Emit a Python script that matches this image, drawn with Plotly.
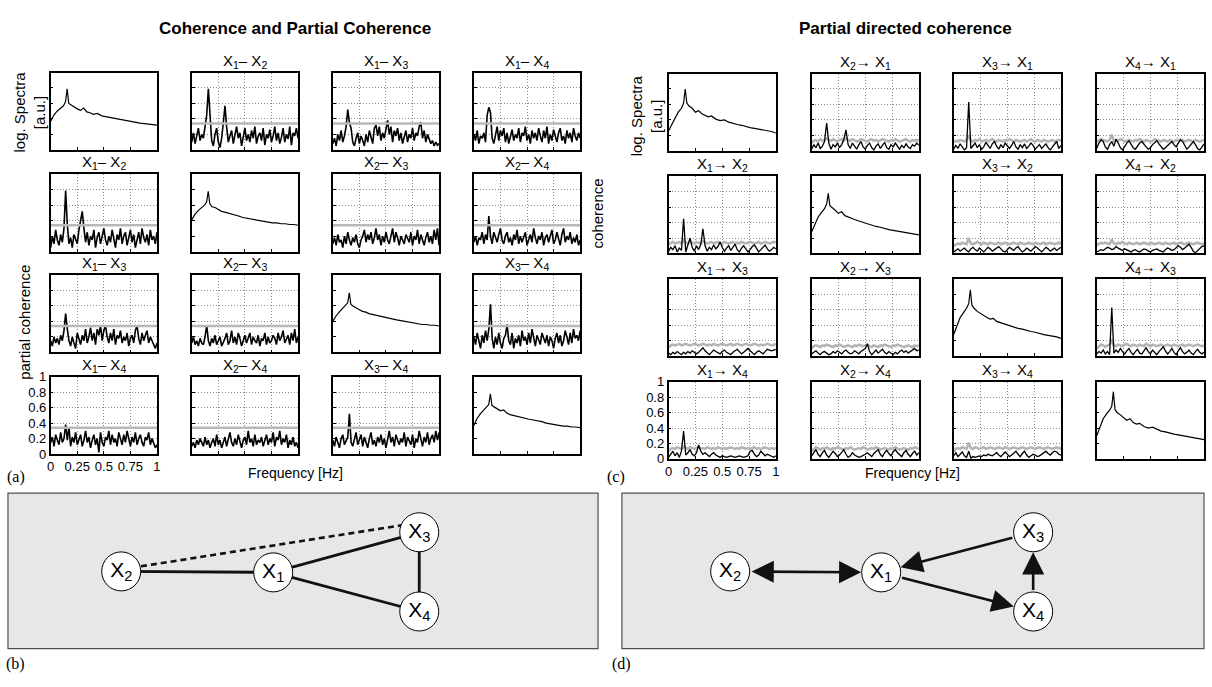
import numpy as np
import plotly.graph_objects as go

W, H = 1212, 687
FONT = "Arial, Liberation Sans, sans-serif"
SERIF = "Times New Roman, Liberation Serif, serif"

# ---------------- data ----------------
# log spectra (diagonal panels), arbitrary units, sampled at f_spec
f_spec = [0, 0.03, 0.06, 0.09, 0.12, 0.14, 0.155, 0.17, 0.19, 0.22, 0.25, 0.28, 0.31, 0.34, 0.37,
          0.40, 0.44, 0.48, 0.52, 0.56, 0.60, 0.64, 0.68, 0.72, 0.76, 0.80, 0.84, 0.88, 0.92, 0.96, 1.0]
spec_L1 = [0.37,0.45,0.50,0.53,0.57,0.62,0.79,0.60,0.58,0.55,0.53,0.51,0.54,0.49,0.48,0.46,0.47,0.44,0.43,0.41,0.40,0.39,0.38,0.37,0.36,0.35,0.345,0.34,0.33,0.325,0.32]
spec_L2 = [0.41,0.48,0.53,0.56,0.60,0.64,0.78,0.62,0.58,0.57,0.54,0.52,0.51,0.50,0.48,0.47,0.46,0.44,0.43,0.42,0.41,0.40,0.39,0.38,0.37,0.37,0.36,0.36,0.35,0.35,0.34]
spec_L3 = [0.40,0.47,0.52,0.56,0.60,0.64,0.77,0.62,0.60,0.57,0.55,0.53,0.52,0.50,0.49,0.48,0.47,0.45,0.44,0.43,0.42,0.41,0.40,0.39,0.38,0.37,0.36,0.36,0.35,0.35,0.34]
spec_L4 = [0.37,0.46,0.52,0.56,0.60,0.64,0.78,0.63,0.61,0.58,0.56,0.57,0.53,0.51,0.50,0.49,0.47,0.46,0.45,0.44,0.43,0.42,0.40,0.39,0.38,0.37,0.36,0.36,0.35,0.35,0.34]
spec_R1 = [0.26,0.34,0.42,0.50,0.55,0.62,0.80,0.62,0.58,0.55,0.50,0.52,0.48,0.46,0.44,0.45,0.41,0.39,0.40,0.37,0.35,0.34,0.33,0.31,0.30,0.29,0.28,0.27,0.26,0.25,0.23]
spec_R2 = [0.28,0.38,0.47,0.53,0.58,0.64,0.78,0.62,0.60,0.56,0.52,0.54,0.49,0.47,0.45,0.44,0.42,0.40,0.38,0.37,0.35,0.34,0.32,0.31,0.30,0.29,0.28,0.27,0.26,0.25,0.24]
spec_R3 = [0.28,0.40,0.50,0.56,0.62,0.68,0.86,0.66,0.62,0.58,0.55,0.52,0.50,0.48,0.49,0.45,0.43,0.41,0.39,0.38,0.36,0.35,0.33,0.32,0.31,0.29,0.28,0.27,0.26,0.25,0.23]
spec_R4 = [0.30,0.42,0.52,0.58,0.63,0.68,0.87,0.64,0.60,0.57,0.54,0.50,0.52,0.47,0.45,0.46,0.42,0.40,0.41,0.38,0.36,0.35,0.33,0.32,0.31,0.30,0.29,0.28,0.27,0.26,0.25]

# coherence (above diagonal) and partial coherence (below), 0..1 Hz
coh_12 = [0.10,0.22,0.08,0.18,0.28,0.12,0.20,0.15,0.30,0.45,0.79,0.40,0.12,0.05,0.20,0.28,0.10,0.03,0.15,0.35,0.57,0.30,0.10,0.18,0.25,0.08,0.20,0.30,0.15,0.22,0.05,0.18,0.28,0.12,0.20,0.10,0.25,0.15,0.30,0.08,0.18,0.22,0.12,0.28,0.06,0.20,0.15,0.26,0.10,0.18,0.30,0.12,0.22,0.08,0.16,0.28,0.10,0.20,0.14,0.30,0.06,0.22,0.18,0.28,0.15]
coh_13 = [0.08,0.15,0.05,0.20,0.12,0.25,0.10,0.18,0.30,0.52,0.35,0.28,0.10,0.05,0.15,0.22,0.08,0.18,0.12,0.05,0.20,0.10,0.25,0.15,0.08,0.28,0.32,0.18,0.30,0.12,0.22,0.15,0.28,0.38,0.20,0.30,0.10,0.25,0.18,0.28,0.12,0.22,0.08,0.18,0.25,0.10,0.20,0.15,0.28,0.12,0.22,0.18,0.30,0.36,0.15,0.25,0.10,0.20,0.15,0.08,0.12,0.05,0.10,0.06,0.08]
coh_14 = [0.20,0.12,0.25,0.08,0.18,0.15,0.22,0.10,0.45,0.55,0.48,0.15,0.08,0.20,0.30,0.12,0.25,0.18,0.28,0.10,0.22,0.08,0.18,0.26,0.12,0.20,0.15,0.28,0.10,0.22,0.18,0.30,0.12,0.20,0.08,0.25,0.15,0.22,0.12,0.28,0.18,0.10,0.25,0.15,0.30,0.08,0.20,0.12,0.26,0.18,0.10,0.22,0.28,0.12,0.18,0.08,0.25,0.15,0.22,0.10,0.28,0.18,0.12,0.22,0.15]
coh_23 = [0.10,0.18,0.08,0.22,0.12,0.15,0.05,0.20,0.10,0.25,0.15,0.08,0.18,0.12,0.22,0.10,0.05,0.15,0.20,0.28,0.12,0.22,0.15,0.25,0.10,0.18,0.30,0.15,0.22,0.08,0.20,0.12,0.25,0.15,0.10,0.22,0.30,0.12,0.25,0.18,0.08,0.20,0.15,0.10,0.22,0.18,0.12,0.25,0.08,0.20,0.15,0.28,0.10,0.22,0.15,0.08,0.18,0.25,0.12,0.20,0.10,0.28,0.15,0.30,0.08]
coh_24 = [0.12,0.20,0.08,0.18,0.15,0.25,0.10,0.22,0.15,0.46,0.20,0.10,0.25,0.18,0.12,0.22,0.30,0.15,0.10,0.20,0.25,0.12,0.18,0.08,0.22,0.15,0.28,0.10,0.20,0.12,0.18,0.25,0.08,0.15,0.22,0.12,0.30,0.18,0.10,0.20,0.15,0.25,0.08,0.18,0.22,0.12,0.20,0.28,0.10,0.15,0.25,0.18,0.08,0.22,0.30,0.12,0.20,0.15,0.25,0.10,0.18,0.12,0.22,0.08,0.15]
coh_34 = [0.20,0.10,0.25,0.15,0.05,0.22,0.12,0.28,0.15,0.30,0.62,0.18,0.05,0.20,0.10,0.25,0.12,0.05,0.18,0.22,0.36,0.15,0.10,0.25,0.05,0.18,0.12,0.22,0.08,0.28,0.15,0.20,0.10,0.25,0.12,0.30,0.18,0.08,0.22,0.15,0.10,0.25,0.18,0.12,0.22,0.08,0.20,0.15,0.05,0.18,0.25,0.12,0.22,0.08,0.15,0.28,0.20,0.10,0.25,0.12,0.30,0.18,0.22,0.15,0.28]
pcoh_12 = [0.05,0.20,0.10,0.28,0.15,0.08,0.22,0.12,0.30,0.79,0.35,0.10,0.18,0.05,0.22,0.15,0.10,0.28,0.40,0.52,0.30,0.12,0.25,0.08,0.20,0.15,0.28,0.05,0.18,0.25,0.10,0.22,0.30,0.15,0.08,0.20,0.12,0.28,0.18,0.05,0.22,0.15,0.30,0.10,0.20,0.25,0.08,0.18,0.28,0.12,0.22,0.05,0.15,0.25,0.10,0.30,0.18,0.12,0.22,0.08,0.28,0.15,0.20,0.10,0.25]
pcoh_13 = [0.15,0.08,0.20,0.12,0.18,0.10,0.22,0.15,0.28,0.50,0.30,0.15,0.08,0.20,0.12,0.05,0.25,0.18,0.10,0.22,0.15,0.30,0.12,0.20,0.32,0.15,0.25,0.10,0.30,0.22,0.35,0.15,0.28,0.35,0.20,0.12,0.25,0.15,0.30,0.10,0.22,0.18,0.28,0.12,0.20,0.15,0.25,0.08,0.18,0.22,0.12,0.28,0.35,0.18,0.10,0.25,0.15,0.22,0.28,0.12,0.20,0.15,0.10,0.05,0.12]
pcoh_23 = [0.12,0.20,0.10,0.15,0.08,0.18,0.12,0.10,0.20,0.35,0.15,0.08,0.18,0.12,0.22,0.10,0.15,0.20,0.08,0.12,0.18,0.25,0.10,0.15,0.28,0.12,0.20,0.10,0.25,0.18,0.08,0.15,0.22,0.12,0.18,0.25,0.10,0.20,0.15,0.12,0.22,0.08,0.18,0.15,0.25,0.10,0.20,0.12,0.15,0.22,0.18,0.10,0.25,0.15,0.20,0.28,0.12,0.18,0.22,0.10,0.25,0.15,0.30,0.12,0.20]
pcoh_14 = [0.15,0.22,0.10,0.25,0.18,0.12,0.28,0.15,0.20,0.38,0.18,0.35,0.10,0.22,0.15,0.28,0.12,0.20,0.25,0.10,0.18,0.30,0.15,0.22,0.08,0.18,0.25,0.12,0.20,0.02,0.28,0.15,0.10,0.22,0.18,0.30,0.12,0.25,0.15,0.20,0.10,0.28,0.18,0.12,0.25,0.15,0.30,0.20,0.10,0.22,0.15,0.28,0.12,0.20,0.25,0.15,0.10,0.22,0.18,0.28,0.12,0.20,0.15,0.08,0.12]
pcoh_24 = [0.10,0.15,0.08,0.18,0.12,0.20,0.15,0.10,0.22,0.12,0.18,0.08,0.15,0.20,0.10,0.25,0.12,0.18,0.08,0.15,0.22,0.10,0.18,0.28,0.15,0.10,0.20,0.12,0.25,0.15,0.08,0.18,0.22,0.12,0.30,0.15,0.20,0.10,0.25,0.12,0.18,0.15,0.22,0.10,0.18,0.25,0.12,0.20,0.15,0.28,0.10,0.22,0.18,0.30,0.12,0.20,0.15,0.25,0.08,0.18,0.12,0.22,0.10,0.15,0.08]
pcoh_34 = [0.18,0.10,0.22,0.15,0.08,0.20,0.25,0.12,0.18,0.22,0.52,0.15,0.10,0.20,0.28,0.12,0.18,0.25,0.10,0.22,0.15,0.08,0.20,0.28,0.12,0.18,0.10,0.22,0.15,0.25,0.12,0.20,0.08,0.18,0.30,0.15,0.22,0.10,0.25,0.18,0.12,0.20,0.15,0.28,0.10,0.22,0.18,0.12,0.25,0.08,0.20,0.15,0.30,0.18,0.10,0.22,0.15,0.28,0.12,0.20,0.25,0.15,0.30,0.18,0.28]
coh_threshold = 0.34

# partial directed coherence: black = PDC, gray = significance level
pdc_2to1 = [0.02,0.08,0.04,0.10,0.03,0.06,0.12,0.36,0.10,0.02,0.08,0.05,0.10,0.04,0.08,0.15,0.27,0.08,0.03,0.10,0.06,0.02,0.08,0.12,0.05,0.02,0.07,0.10,0.04,0.01,0.06,0.09,0.03,0.07,0.11,0.04,0.02,0.08,0.05,0.10,0.06,0.02,0.07,0.04,0.09,0.05,0.03,0.08,0.06,0.10,0.07]
sig_2to1 = [0.10,0.13,0.14,0.12,0.15,0.13,0.14,0.16,0.14,0.13,0.15,0.14,0.12,0.14,0.15,0.13,0.16,0.14,0.13,0.15,0.14,0.12,0.13,0.15,0.14,0.13,0.12,0.14,0.15,0.13,0.14,0.12,0.13,0.15,0.14,0.13,0.12,0.14,0.13,0.15,0.14,0.12,0.13,0.14,0.15,0.13,0.12,0.14,0.13,0.14,0.13]
pdc_3to1 = [0.02,0.07,0.03,0.09,0.05,0.01,0.04,0.63,0.03,0.06,0.10,0.04,0.08,0.02,0.05,0.11,0.07,0.03,0.09,0.12,0.06,0.02,0.08,0.04,0.10,0.06,0.03,0.07,0.12,0.05,0.02,0.08,0.04,0.09,0.03,0.06,0.10,0.07,0.02,0.05,0.08,0.03,0.06,0.09,0.04,0.01,0.05,0.08,0.12,0.03,0.07]
sig_3to1 = [0.11,0.13,0.12,0.14,0.13,0.12,0.14,0.20,0.13,0.12,0.14,0.13,0.15,0.12,0.13,0.14,0.12,0.13,0.15,0.13,0.12,0.14,0.13,0.12,0.14,0.13,0.15,0.13,0.12,0.14,0.13,0.12,0.13,0.14,0.12,0.13,0.15,0.13,0.12,0.14,0.13,0.12,0.14,0.13,0.12,0.13,0.14,0.12,0.13,0.14,0.13]
pdc_4to1 = [0.03,0.10,0.14,0.12,0.05,0.02,0.08,0.12,0.06,0.15,0.10,0.04,0.01,0.06,0.10,0.13,0.08,0.04,0.02,0.06,0.10,0.12,0.08,0.05,0.02,0.04,0.08,0.11,0.13,0.09,0.05,0.02,0.04,0.07,0.10,0.12,0.08,0.05,0.10,0.14,0.12,0.06,0.02,0.05,0.09,0.12,0.08,0.03,0.01,0.05,0.09]
sig_4to1 = [0.12,0.13,0.15,0.14,0.13,0.12,0.14,0.21,0.13,0.14,0.13,0.15,0.14,0.12,0.13,0.14,0.13,0.12,0.14,0.13,0.15,0.13,0.12,0.14,0.13,0.12,0.13,0.15,0.14,0.13,0.12,0.14,0.13,0.12,0.14,0.13,0.12,0.14,0.13,0.15,0.14,0.12,0.13,0.14,0.13,0.12,0.14,0.13,0.12,0.13,0.14]
pdc_1to2 = [0.03,0.08,0.05,0.10,0.02,0.07,0.04,0.45,0.02,0.12,0.20,0.08,0.03,0.10,0.05,0.12,0.32,0.10,0.03,0.08,0.05,0.11,0.06,0.09,0.15,0.08,0.03,0.07,0.10,0.04,0.08,0.12,0.05,0.02,0.07,0.10,0.06,0.02,0.05,0.09,0.11,0.06,0.02,0.05,0.08,0.11,0.06,0.03,0.05,0.08,0.06]
sig_1to2 = [0.12,0.14,0.15,0.13,0.14,0.15,0.13,0.17,0.14,0.13,0.15,0.14,0.13,0.15,0.14,0.13,0.16,0.14,0.13,0.14,0.15,0.13,0.14,0.15,0.14,0.13,0.15,0.14,0.13,0.14,0.15,0.13,0.14,0.13,0.15,0.14,0.13,0.14,0.15,0.14,0.13,0.14,0.15,0.13,0.14,0.15,0.14,0.13,0.14,0.15,0.14]
pdc_3to2 = [0.02,0.04,0.06,0.03,0.05,0.07,0.04,0.02,0.06,0.08,0.05,0.03,0.07,0.04,0.02,0.05,0.08,0.06,0.03,0.05,0.07,0.09,0.06,0.03,0.02,0.05,0.08,0.06,0.04,0.07,0.09,0.05,0.02,0.04,0.07,0.05,0.03,0.06,0.09,0.07,0.04,0.02,0.05,0.08,0.06,0.03,0.05,0.07,0.04,0.06,0.08]
sig_3to2 = [0.10,0.12,0.13,0.12,0.14,0.13,0.12,0.20,0.13,0.12,0.14,0.15,0.13,0.12,0.14,0.13,0.12,0.14,0.13,0.12,0.13,0.14,0.12,0.13,0.14,0.13,0.12,0.13,0.14,0.13,0.12,0.14,0.13,0.12,0.13,0.14,0.13,0.12,0.14,0.13,0.12,0.13,0.14,0.12,0.13,0.14,0.13,0.12,0.13,0.14,0.13]
pdc_4to2 = [0.02,0.03,0.05,0.04,0.06,0.08,0.07,0.05,0.06,0.09,0.07,0.05,0.04,0.06,0.05,0.03,0.02,0.04,0.05,0.03,0.02,0.04,0.06,0.05,0.03,0.02,0.04,0.05,0.06,0.04,0.03,0.02,0.05,0.07,0.06,0.04,0.05,0.08,0.10,0.08,0.05,0.07,0.10,0.12,0.08,0.03,0.01,0.04,0.07,0.09,0.10]
sig_4to2 = [0.11,0.12,0.14,0.13,0.14,0.13,0.12,0.18,0.13,0.12,0.14,0.13,0.15,0.13,0.12,0.14,0.13,0.12,0.13,0.14,0.12,0.13,0.14,0.13,0.12,0.14,0.13,0.12,0.13,0.14,0.13,0.12,0.14,0.13,0.12,0.13,0.14,0.12,0.13,0.14,0.13,0.12,0.13,0.14,0.13,0.12,0.13,0.14,0.13,0.12,0.13]
pdc_1to3 = [0.04,0.02,0.05,0.03,0.06,0.04,0.02,0.05,0.03,0.06,0.04,0.07,0.05,0.03,0.05,0.08,0.11,0.07,0.04,0.02,0.05,0.08,0.06,0.04,0.03,0.06,0.08,0.05,0.03,0.02,0.05,0.07,0.09,0.06,0.03,0.05,0.08,0.10,0.07,0.04,0.02,0.05,0.07,0.05,0.03,0.06,0.09,0.08,0.07,0.08,0.09]
sig_1to3 = [0.11,0.14,0.15,0.14,0.15,0.16,0.14,0.15,0.16,0.15,0.14,0.15,0.16,0.15,0.14,0.15,0.16,0.15,0.14,0.15,0.14,0.16,0.15,0.14,0.15,0.16,0.15,0.14,0.15,0.16,0.14,0.15,0.16,0.15,0.14,0.15,0.16,0.15,0.14,0.15,0.16,0.15,0.14,0.15,0.14,0.15,0.16,0.15,0.14,0.15,0.15]
pdc_2to3 = [0.03,0.05,0.07,0.04,0.02,0.05,0.06,0.04,0.02,0.03,0.06,0.04,0.07,0.05,0.03,0.06,0.08,0.05,0.03,0.04,0.07,0.05,0.03,0.06,0.08,0.10,0.16,0.06,0.02,0.05,0.08,0.04,0.06,0.09,0.05,0.03,0.06,0.04,0.02,0.05,0.03,0.06,0.08,0.05,0.07,0.04,0.06,0.08,0.10,0.07,0.08]
sig_2to3 = [0.10,0.13,0.14,0.13,0.12,0.14,0.13,0.15,0.14,0.13,0.12,0.14,0.13,0.15,0.14,0.12,0.13,0.14,0.13,0.12,0.14,0.13,0.15,0.14,0.13,0.14,0.15,0.13,0.12,0.14,0.13,0.12,0.14,0.13,0.15,0.14,0.13,0.12,0.14,0.13,0.15,0.14,0.13,0.12,0.13,0.14,0.13,0.12,0.14,0.13,0.14]
pdc_4to3 = [0.03,0.06,0.04,0.08,0.03,0.06,0.02,0.63,0.04,0.08,0.05,0.10,0.06,0.03,0.07,0.10,0.05,0.02,0.06,0.09,0.04,0.03,0.07,0.11,0.06,0.03,0.08,0.05,0.02,0.06,0.09,0.12,0.07,0.03,0.06,0.10,0.05,0.02,0.07,0.11,0.06,0.03,0.05,0.08,0.04,0.02,0.06,0.09,0.05,0.03,0.05]
sig_4to3 = [0.10,0.13,0.15,0.14,0.12,0.14,0.15,0.22,0.14,0.13,0.15,0.14,0.13,0.15,0.16,0.14,0.13,0.15,0.14,0.13,0.15,0.14,0.13,0.16,0.14,0.13,0.15,0.14,0.13,0.14,0.15,0.13,0.14,0.15,0.14,0.13,0.15,0.14,0.13,0.14,0.15,0.13,0.14,0.15,0.14,0.13,0.14,0.15,0.14,0.13,0.14]
pdc_1to4 = [0.02,0.06,0.10,0.04,0.08,0.02,0.10,0.36,0.05,0.08,0.12,0.06,0.04,0.08,0.18,0.10,0.06,0.08,0.05,0.03,0.06,0.08,0.05,0.03,0.02,0.04,0.03,0.02,0.03,0.04,0.03,0.02,0.03,0.04,0.03,0.02,0.03,0.04,0.10,0.11,0.06,0.03,0.05,0.10,0.07,0.04,0.06,0.05,0.03,0.02,0.04]
sig_1to4 = [0.10,0.13,0.14,0.13,0.15,0.14,0.13,0.16,0.14,0.13,0.15,0.14,0.13,0.14,0.15,0.13,0.14,0.13,0.15,0.14,0.13,0.14,0.13,0.15,0.14,0.13,0.14,0.13,0.14,0.15,0.14,0.13,0.14,0.13,0.15,0.14,0.13,0.14,0.13,0.14,0.15,0.13,0.14,0.13,0.14,0.15,0.14,0.13,0.14,0.13,0.14]
pdc_2to4 = [0.04,0.08,0.12,0.06,0.03,0.08,0.11,0.05,0.02,0.06,0.10,0.07,0.03,0.05,0.09,0.12,0.06,0.02,0.04,0.08,0.05,0.03,0.02,0.03,0.04,0.06,0.08,0.05,0.03,0.07,0.10,0.12,0.06,0.03,0.08,0.11,0.07,0.04,0.09,0.12,0.08,0.05,0.03,0.08,0.11,0.06,0.03,0.07,0.10,0.05,0.08]
sig_2to4 = [0.10,0.13,0.15,0.14,0.12,0.14,0.13,0.15,0.14,0.12,0.14,0.13,0.15,0.14,0.13,0.12,0.14,0.13,0.15,0.14,0.12,0.13,0.14,0.13,0.15,0.14,0.12,0.13,0.14,0.13,0.15,0.14,0.12,0.13,0.14,0.13,0.12,0.14,0.13,0.15,0.14,0.12,0.13,0.14,0.13,0.12,0.14,0.13,0.15,0.14,0.13]
pdc_3to4 = [0.04,0.08,0.03,0.06,0.09,0.04,0.02,0.10,0.01,0.03,0.02,0.03,0.04,0.03,0.05,0.04,0.06,0.05,0.04,0.06,0.08,0.05,0.03,0.06,0.09,0.06,0.03,0.05,0.08,0.10,0.06,0.03,0.07,0.10,0.05,0.02,0.04,0.06,0.05,0.03,0.04,0.06,0.08,0.10,0.07,0.05,0.08,0.10,0.09,0.06,0.05]
sig_3to4 = [0.10,0.13,0.14,0.13,0.15,0.14,0.13,0.21,0.14,0.13,0.15,0.14,0.13,0.14,0.15,0.13,0.14,0.15,0.14,0.13,0.14,0.15,0.14,0.13,0.15,0.14,0.13,0.14,0.15,0.14,0.13,0.14,0.15,0.14,0.13,0.14,0.15,0.14,0.13,0.14,0.15,0.14,0.13,0.14,0.15,0.14,0.13,0.14,0.15,0.14,0.14]

tick_y_vals = [0, 0.2, 0.4, 0.6, 0.8, 1]
tick_y_text = ["0", "0.2", "0.4", "0.6", "0.8", "1"]
tick_x_vals = [0, 0.25, 0.5, 0.75, 1]
tick_x_text = ["0", "0.25", "0.5", "0.75", "1"]

# network graphs (node positions in panel units)
node_names = ["X1", "X2", "X3", "X4"]
node_b_x = [271, 118, 418, 418]
node_b_y = [578, 577, 537, 618]
edges_b_solid = [("X2", "X1"), ("X1", "X3"), ("X1", "X4"), ("X3", "X4")]
edges_b_dashed = [("X2", "X3")]
node_d_x = [883, 731, 1036, 1036]
node_d_y = [578, 577, 537, 618]
arrows_d = [("X2", "X1", True), ("X3", "X1", False), ("X1", "X4", False), ("X4", "X3", False)]

# ---------------- layout geometry (pixels) ----------------
L_cols, L_rows, L_w, L_h = [47, 189, 331, 473], [67, 171, 274, 378], 107, 79
R_cols, R_rows, R_w, R_h = [669, 813, 956, 1100], [68, 173, 278, 383], 108, 79

def sub(s):
    return "X<sub>%s</sub>" % s[1]

fig = go.Figure()
layout = {}
annotations = []
shapes = []

def xd(p0, p1):
    return [p0 / W, p1 / W]

def yd(p0, p1):
    return [1 - p1 / H, 1 - p0 / H]

def add_axes(n, x0, y0, w, h, grid, labels):
    xname = "xaxis" if n == 1 else "xaxis%d" % n
    yname = "yaxis" if n == 1 else "yaxis%d" % n
    common = dict(showline=True, mirror=True, linecolor="black", linewidth=1.5,
                  ticks="inside", ticklen=3, tickcolor="black", zeroline=False,
                  showgrid=grid, gridcolor="#8c8c8c", griddash="1px,2px", gridwidth=1,
                  tickfont=dict(family=FONT, size=13, color="black"), fixedrange=True)
    layout[xname] = dict(domain=xd(x0, x0 + w), anchor="y%d" % n, range=[0, 1],
                         tickvals=tick_x_vals, ticktext=tick_x_text,
                         showticklabels=labels, **common)
    layout[yname] = dict(domain=yd(y0, y0 + h), anchor="x%d" % n, range=[0, 1],
                         tickvals=tick_y_vals, ticktext=tick_y_text,
                         showticklabels=labels, **common)

def line(n, x, y, color, width):
    fig.add_trace(go.Scatter(x=x, y=y, xaxis="x%d" % n, yaxis="y%d" % n, mode="lines",
                             line=dict(color=color, width=width), showlegend=False,
                             hoverinfo="skip"))

def title(x0, y0, w, text):
    annotations.append(dict(x=(x0 + w / 2) / W, y=1 - y0 / H, xref="paper", yref="paper",
                            text=text, showarrow=False, xanchor="center", yanchor="bottom",
                            yshift=0, font=dict(family=FONT, size=15, color="black")))

spec_L = [spec_L1, spec_L2, spec_L3, spec_L4]
spec_R = [spec_R1, spec_R2, spec_R3, spec_R4]
coh_L = {(0, 1): coh_12, (0, 2): coh_13, (0, 3): coh_14, (1, 2): coh_23, (1, 3): coh_24, (2, 3): coh_34,
         (1, 0): pcoh_12, (2, 0): pcoh_13, (2, 1): pcoh_23, (3, 0): pcoh_14, (3, 1): pcoh_24, (3, 2): pcoh_34}
pdc_R = {(0, 1): (pdc_2to1, sig_2to1), (0, 2): (pdc_3to1, sig_3to1), (0, 3): (pdc_4to1, sig_4to1),
         (1, 0): (pdc_1to2, sig_1to2), (1, 2): (pdc_3to2, sig_3to2), (1, 3): (pdc_4to2, sig_4to2),
         (2, 0): (pdc_1to3, sig_1to3), (2, 1): (pdc_2to3, sig_2to3), (2, 3): (pdc_4to3, sig_4to3),
         (3, 0): (pdc_1to4, sig_1to4), (3, 1): (pdc_2to4, sig_2to4), (3, 2): (pdc_3to4, sig_3to4)}

n = 0
# left block: coherence / partial coherence
for r in range(4):
    for c in range(4):
        n += 1
        x0, y0 = L_cols[c], L_rows[r]
        labels = (r == 3 and c == 0)
        if r == c:
            add_axes(n, x0, y0, L_w, L_h, False, False)
            s = spec_L[r]
            line(n, f_spec[:len(s)], s, "black", 1.2)
        else:
            add_axes(n, x0, y0, L_w, L_h, True, labels)
            v = coh_L[(r, c)]
            line(n, np.linspace(0, 1, len(v)), v, "black", 1.6)
            line(n, [0, 1], [coh_threshold, coh_threshold], "#b8b8b8", 2.4)
            a, b = sorted([r, c])
            title(x0, y0, L_w, "X<sub>%d</sub>– X<sub>%d</sub>" % (a + 1, b + 1))

# right block: PDC
for r in range(4):
    for c in range(4):
        n += 1
        x0, y0 = R_cols[c], R_rows[r]
        labels = (r == 3 and c == 0)
        if r == c:
            add_axes(n, x0, y0, R_w, R_h, False, False)
            s = spec_R[r]
            line(n, f_spec[:len(s)], s, "black", 1.2)
        else:
            add_axes(n, x0, y0, R_w, R_h, True, labels)
            v, g = pdc_R[(r, c)]
            line(n, np.linspace(0, 1, len(g)), g, "#b4b4b4", 2.6)
            line(n, np.linspace(0, 1, len(v)), v, "black", 1.3)
            title(x0, y0, R_w, "X<sub>%d</sub>→ X<sub>%d</sub>" % (c + 1, r + 1))

# network panels
def net_axes(n, px0, px1, py0, py1):
    layout["xaxis%d" % n] = dict(domain=xd(px0, px1), range=[px0, px1], visible=False,
                                 anchor="y%d" % n, fixedrange=True)
    layout["yaxis%d" % n] = dict(domain=yd(py0, py1), range=[py1, py0], visible=False,
                                 anchor="x%d" % n, fixedrange=True)
    shapes.append(dict(type="rect", xref="paper", yref="paper", x0=px0 / W, x1=px1 / W,
                       y0=1 - py1 / H, y1=1 - py0 / H, fillcolor="#e6e7e6",
                       line=dict(color="#505050", width=1.2), layer="below"))

def nodes(n, nx, ny):
    fig.add_trace(go.Scatter(x=nx, y=ny, xaxis="x%d" % n, yaxis="y%d" % n, mode="markers+text",
                             marker=dict(size=39, color="white", line=dict(color="black", width=1)),
                             text=[sub(s) for s in node_names], textposition="middle center",
                             textfont=dict(family=FONT, size=21, color="black"),
                             showlegend=False, hoverinfo="skip"))

n_b = 33
net_axes(n_b, 4, 598, 497, 656)
pos_b = {k: (node_b_x[i], node_b_y[i]) for i, k in enumerate(node_names)}
for a, b in edges_b_solid:
    fig.add_trace(go.Scatter(x=[pos_b[a][0], pos_b[b][0]], y=[pos_b[a][1], pos_b[b][1]],
                             xaxis="x33", yaxis="y33", mode="lines",
                             line=dict(color="#111", width=2.8), showlegend=False, hoverinfo="skip"))
for a, b in edges_b_dashed:
    fig.add_trace(go.Scatter(x=[pos_b[a][0], pos_b[b][0]], y=[pos_b[a][1] - 2, pos_b[b][1] - 10],
                             xaxis="x33", yaxis="y33", mode="lines",
                             line=dict(color="#111", width=2.6, dash="6px,4px"), showlegend=False,
                             hoverinfo="skip"))
nodes(n_b, node_b_x, node_b_y)

n_d = 34
net_axes(n_d, 622, 1208, 497, 656)
pos_d = {k: (node_d_x[i], node_d_y[i]) for i, k in enumerate(node_names)}
nodes(n_d, node_d_x, node_d_y)
for a, b, both in arrows_d:
    ann = dict(x=pos_d[b][0], y=pos_d[b][1], ax=pos_d[a][0], ay=pos_d[a][1],
               xref="x34", yref="y34", axref="x34", ayref="y34", text="", showarrow=True,
               arrowhead=2, arrowsize=1.7, arrowwidth=2.6, arrowcolor="#111",
               standoff=20, startstandoff=20)
    if both:
        ann.update(arrowside="end+start", startarrowhead=2, startarrowsize=1.7)
    annotations.append(ann)

# texts
def txt(x, y, s, size=14, angle=0, family=FONT, bold=False, xanchor="center"):
    if bold:
        s = "<b>%s</b>" % s
    annotations.append(dict(x=x / W, y=1 - y / H, xref="paper", yref="paper", text=s,
                            showarrow=False, textangle=angle, xanchor=xanchor, yanchor="middle",
                            font=dict(family=family, size=size, color="black")))

txt(293, 22, "Coherence and Partial Coherence", size=17, bold=True)
txt(907, 22, "Partial directed coherence", size=17, bold=True)
txt(26, 107, "log. Spectra<br>[a.u.]", size=15, angle=-90)
txt(647, 111, "log. Spectra<br>[a.u.]", size=15, angle=-90)
txt(597, 211, "coherence", size=15, angle=-90)
txt(21, 322, "partial coherence", size=15, angle=-90)
txt(293, 476, "Frequency [Hz]", size=14)
txt(915, 476, "Frequency [Hz]", size=14)
txt(12, 481, "(a)", size=16, family=SERIF)
txt(12, 672, "(b)", size=16, family=SERIF)
txt(616, 481, "(c)", size=16, family=SERIF)
txt(622, 672, "(d)", size=16, family=SERIF)

fig.update_layout(width=W, height=H, margin=dict(l=0, r=0, t=0, b=0),
                  paper_bgcolor="white", plot_bgcolor="white",
                  annotations=annotations, shapes=shapes, showlegend=False, **layout)
fig.write_html("out.html")
